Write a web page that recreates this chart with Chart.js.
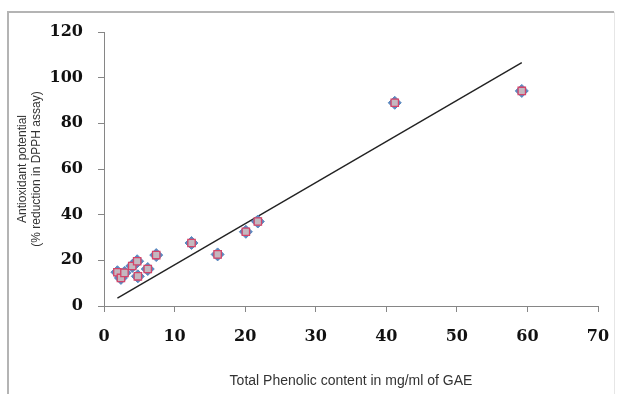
<!DOCTYPE html>
<html>
<head>
<meta charset="utf-8">
<script src="https://cdn.jsdelivr.net/npm/chart.js@4"></script>
<style>
  html, body { margin: 0; padding: 0; background: #fff; }
  #wrap { width: 617px; height: 394px; }
</style>
</head>
<body>
<div id="wrap"><canvas id="phenolChart" width="617" height="394"></canvas></div>
<script>
// Total phenolic content (mg/ml GAE) vs. % DPPH reduction
const phenolic = [1.9, 2.4, 2.9, 4.0, 4.7, 4.8, 6.2, 7.4, 12.4, 16.1, 20.1, 21.8, 41.2, 59.2];
const dpphReduction = [14.8, 12.3, 14.5, 17.5, 19.6, 13.0, 16.2, 22.3, 27.6, 22.6, 32.5, 37.0, 89.0, 94.2];
const xTicks = [0, 10, 20, 30, 40, 50, 60, 70];
const yTicks = [0, 20, 40, 60, 80, 100, 120];

const points = phenolic.map((x, i) => ({ x: x, y: dpphReduction[i] }));

// linear trend forced through the origin: slope = sum(xy) / sum(x^2)
let sxy = 0, sxx = 0;
phenolic.forEach((x, i) => { sxy += x * dpphReduction[i]; sxx += x * x; });
const slope = sxy / sxx;
const xLo = Math.min(...phenolic), xHi = Math.max(...phenolic);
const trend = [{ x: xLo, y: slope * xLo }, { x: xHi, y: slope * xHi }];

// grey frame round the figure
const framePlugin = {
  id: 'frame',
  beforeDraw(chart) {
    const ctx = chart.ctx;
    ctx.save();
    ctx.strokeStyle = '#b4b4b4';
    ctx.lineWidth = 2;
    ctx.beginPath();
    ctx.moveTo(8, 400);
    ctx.lineTo(8, 12);
    ctx.lineTo(614, 12);
    ctx.stroke();
    ctx.strokeStyle = '#e6e6e6';
    ctx.lineWidth = 1;
    ctx.beginPath();
    ctx.moveTo(614.5, 12);
    ctx.lineTo(614.5, 394);
    ctx.stroke();
    ctx.restore();
  }
};

const tickFont = { family: "'DejaVu Serif', serif", size: 16, weight: 'bold' };
const titleFamily = "'Liberation Sans', Arial, sans-serif";
const axisColor = '#868686';

const axisGrid = {
  display: true,
  drawOnChartArea: false,
  drawTicks: true,
  tickLength: 6,
  tickColor: axisColor,
  color: axisColor
};

new Chart(document.getElementById('phenolChart').getContext('2d'), {
  type: 'scatter',
  data: {
    datasets: [{
      label: 'square',
      data: points,
      pointStyle: 'rect',
      pointRadius: 5.2,
      pointHoverRadius: 5.2,
      backgroundColor: '#c4b8c0',
      borderColor: '#d4456a',
      borderWidth: 1.3
    }, {
      label: 'diamond',
      data: points,
      pointStyle: 'rectRot',
      pointRadius: 6.5,
      pointHoverRadius: 6.5,
      backgroundColor: '#5a88bf',
      borderColor: '#5a88bf',
      borderWidth: 1
    }, {
      type: 'line',
      label: 'trend',
      data: trend,
      borderColor: '#222',
      borderWidth: 1.4,
      pointRadius: 0,
      fill: false
    }]
  },
  options: {
    responsive: false,
    animation: false,
    events: [],
    layout: { padding: { top: 32, right: 19, left: 0, bottom: 0 } },
    plugins: { legend: { display: false }, tooltip: { enabled: false } },
    scales: {
      x: {
        type: 'linear',
        min: 0, max: 70,
        afterBuildTicks: s => { s.ticks = xTicks.map(v => ({ value: v })); },
        afterFit: s => { s.height = 88; s.paddingLeft = 0; s.paddingRight = 0; },
        grid: axisGrid,
        border: { color: axisColor, width: 1 },
        ticks: { font: tickFont, color: '#111', padding: 15, maxRotation: 0 },
        title: {
          display: true,
          text: 'Total Phenolic content in mg/ml of GAE',
          font: { family: titleFamily, size: 14 },
          color: '#333',
          padding: { top: 14 }
        }
      },
      y: {
        type: 'linear',
        min: 0, max: 120,
        afterBuildTicks: s => { s.ticks = yTicks.map(v => ({ value: v })); },
        afterFit: s => { s.width = 104; },
        grid: axisGrid,
        border: { color: axisColor, width: 1 },
        ticks: { font: tickFont, color: '#111', padding: 15 },
        title: {
          display: true,
          text: ['Antioxidant potential', '(% reduction in DPPH assay)'],
          font: { family: titleFamily, size: 12 },
          color: '#333',
          padding: { top: 15 }
        }
      }
    }
  },
  plugins: [framePlugin]
});
</script>
</body>
</html>
